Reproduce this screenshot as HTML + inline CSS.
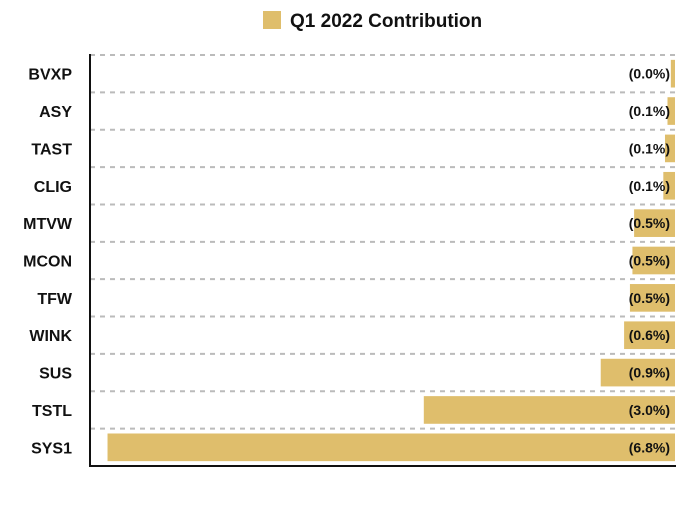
<!DOCTYPE html>
<html><head><meta charset="utf-8"><style>
body{margin:0;background:#fff;font-family:"Liberation Sans",Arial,sans-serif}
svg text{font-family:"Liberation Sans",Arial,sans-serif;font-weight:bold}
</style></head><body>
<svg id="chart" width="700" height="500" xmlns="http://www.w3.org/2000/svg">
<rect x="263" y="11" width="18" height="18" fill="#DFBE6C"/>
<text x="290" y="27" font-size="19" fill="#111">Q1 2022 Contribution</text>
<g id="grid"></g><g id="bars"></g><g id="labels"></g>
<line x1="90" y1="54" x2="90" y2="467" stroke="#111" stroke-width="2"/>
<line x1="89" y1="466" x2="676" y2="466" stroke="#111" stroke-width="2"/>
</svg>
<script>
const categories=["BVXP","ASY","TAST","CLIG","MTVW","MCON","TFW","WINK","SUS","TSTL","SYS1"];
const values=[-0.05,-0.09,-0.12,-0.14,-0.49,-0.51,-0.54,-0.61,-0.89,-3.01,-6.8];
const valueLabels=["(0.0%)","(0.1%)","(0.1%)","(0.1%)","(0.5%)","(0.5%)","(0.5%)","(0.6%)","(0.9%)","(3.0%)","(6.8%)"];
const NS="http://www.w3.org/2000/svg";
const x0=90,x1=675,plotTop=55,plotBottom=466,minV=-7.01;
const xs=v=>x1+(v/(-minV))*(x1-x0);
const band=(plotBottom-plotTop)/categories.length;
const ys=i=>plotTop+i*band;
const grid=document.getElementById('grid'),bars=document.getElementById('bars'),labels=document.getElementById('labels');
categories.forEach((c,i)=>{
  const g=document.createElementNS(NS,'line');
  g.setAttribute('x1',x0);g.setAttribute('x2',x1);g.setAttribute('y1',ys(i));g.setAttribute('y2',ys(i));
  g.setAttribute('stroke','#bbb');g.setAttribute('stroke-width','2');g.setAttribute('stroke-dasharray','5 5');
  
  
  grid.appendChild(g);
  const xv=xs(values[i]);
  const r=document.createElementNS(NS,'rect');
  r.setAttribute('x',xv);r.setAttribute('width',x1-xv);
  r.setAttribute('y',ys(i)+band*0.13);r.setAttribute('height',band*0.74);
  r.setAttribute('fill','#DFBE6C');
  
  
  bars.appendChild(r);
  const t=document.createElementNS(NS,'text');
  t.setAttribute('x',670);t.setAttribute('y',ys(i)+band/2+5);t.setAttribute('text-anchor','end');
  t.setAttribute('font-size','14');t.setAttribute('fill','#111');t.textContent=valueLabels[i];
  
  
  labels.appendChild(t);
  const l=document.createElementNS(NS,'text');
  l.setAttribute('x',72);l.setAttribute('y',ys(i)+band/2+6);l.setAttribute('text-anchor','end');
  l.setAttribute('font-size','16');l.setAttribute('fill','#111');l.textContent=c;
  
  
  labels.appendChild(l);
});
</script>
</body></html>
